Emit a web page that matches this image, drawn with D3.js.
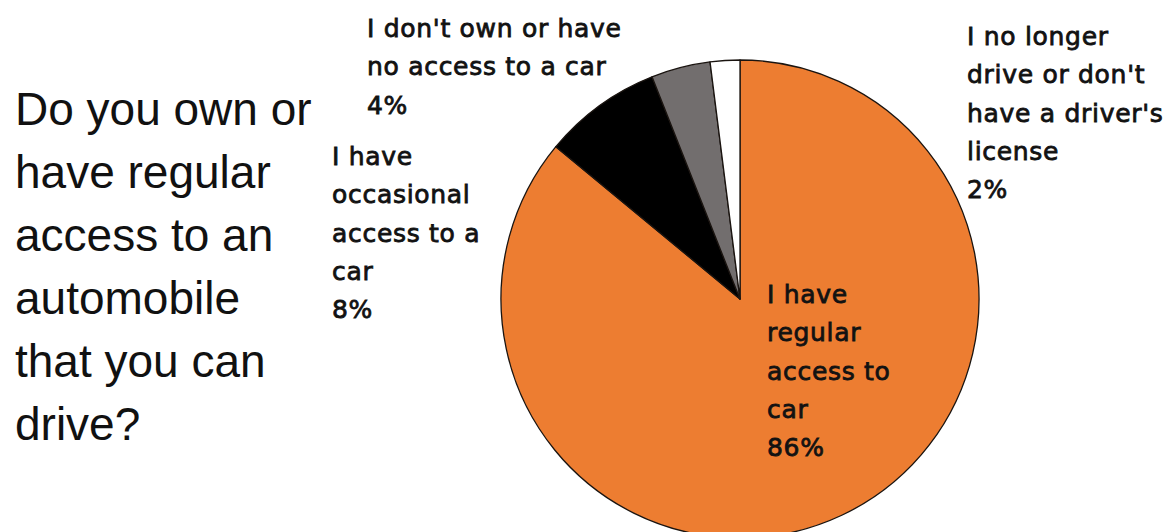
<!DOCTYPE html>
<html>
<head>
<meta charset="utf-8">
<script src="https://cdn.jsdelivr.net/npm/d3@7"></script>
<style>
  html, body { margin: 0; padding: 0; background: #fff; }
  svg { display: block; }
</style>
</head>
<body>
<svg id="chart" width="1174" height="532"></svg>
<script>
// Survey answers, in clockwise order from 12 o'clock
const categories = [
  "I have regular access to car",
  "I have occasional access to a car",
  "I don't own or have no access to a car",
  "I no longer drive or don't have a driver's license"
];
const shares = [86, 8, 4, 2];
const sliceColors = ["#ED7D31", "#000000", "#726E6E", "#FFFFFF"];

// Label text, broken into lines as drawn
const labelLines = [
  ["I have", "regular", "access to", "car"],
  ["I have", "occasional", "access to a", "car"],
  ["I don't own or have", "no access to a car"],
  ["I no longer", "drive or don't", "have a driver's", "license"]
];
const titleLines = ["Do you own or", "have regular", "access to an", "automobile", "that you can", "drive?"];

const svg = d3.select("#chart");

// Pie geometry
const cx = 740, cy = 299, radius = 239;

const pie = d3.pie().sort(null).value(d => d).startAngle(0).endAngle(2 * Math.PI);
const arc = d3.arc().innerRadius(0).outerRadius(radius);
const arcs = pie(shares);

const g = svg.append("g").attr("transform", `translate(${cx},${cy})`);
g.selectAll("path.slice")
  .data(arcs)
  .join("path")
  .attr("class", "slice")
  .attr("d", arc)
  .attr("fill", (d, i) => sliceColors[i])
  .attr("stroke", "#1a1410")
  .attr("stroke-width", 1.3)
  .attr("stroke-linejoin", "round");

// Question text on the left
const title = svg.append("text")
  .attr("font-family", "'Liberation Sans', Arial, sans-serif")
  .attr("font-size", 46)
  .attr("fill", "#111");
titleLines.forEach((line, i) => {
  title.append("tspan").attr("x", 15).attr("y", 125 + i * 63).text(line);
});

// Slice labels: text lines followed by the percentage
const labelPos = [
  { x: 767, y: 303 },
  { x: 332, y: 165 },
  { x: 367, y: 37 },
  { x: 967, y: 45 }
];
const lineGap = 38.3;

labelLines.forEach((lines, i) => {
  const t = svg.append("text")
    .attr("font-family", "'DejaVu Sans', Verdana, sans-serif")
    .attr("font-size", 25)
    .attr("fill", "#121212")
    .attr("stroke", "#121212")
    .attr("stroke-width", 0.8)
    .attr("letter-spacing", 0.7);
  const all = lines.concat([d3.format("d")(shares[i]) + "%"]);
  all.forEach((line, j) => {
    t.append("tspan")
      .attr("x", labelPos[i].x)
      .attr("y", labelPos[i].y + j * lineGap)
      .text(line);
  });
});
</script>
</body>
</html>
